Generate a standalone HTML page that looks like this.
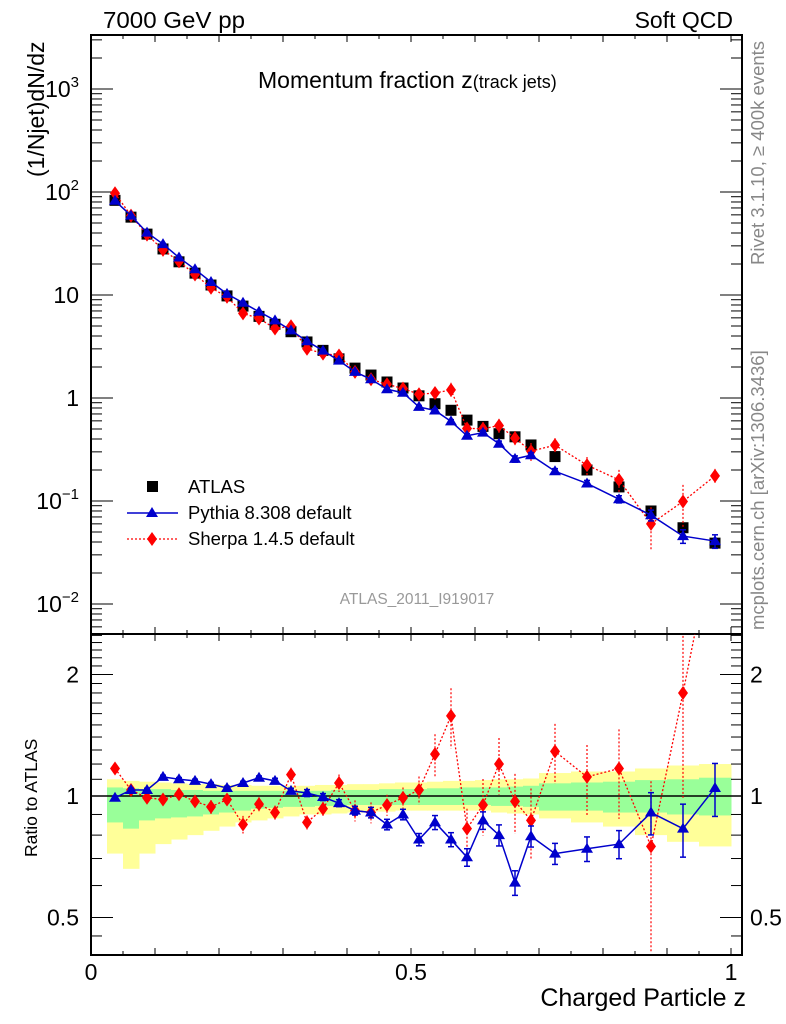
<!DOCTYPE html>
<html><head><meta charset="utf-8"><style>
html,body{margin:0;padding:0;background:#fff}
svg{display:block;font-family:"Liberation Sans",Arial,sans-serif}
</style></head><body>
<svg id="chart" width="786" height="1024" viewBox="0 0 786 1024" xmlns="http://www.w3.org/2000/svg">
<defs>
<clipPath id="clipMain"><rect x="91" y="35" width="651" height="599"/></clipPath>
<clipPath id="clipRatio"><rect x="91" y="634" width="651" height="321"/></clipPath>
</defs>
<g id="bands" clip-path="url(#clipRatio)"></g>
<g id="frame"></g>
<g id="marks"></g>
<text x="103" y="28" font-size="23" textLength="142" lengthAdjust="spacingAndGlyphs">7000 GeV pp</text>
<text x="733" y="28" font-size="23" text-anchor="end">Soft QCD</text>
<text x="258" y="88" font-size="23">Momentum fraction <tspan>z</tspan><tspan font-size="18">(track jets)</tspan></text>
<text x="417" y="604" font-size="15.5" fill="#999" text-anchor="middle">ATLAS_2011_I919017</text>
<text transform="translate(44,177) rotate(-90)" font-size="23">(1/Njet)dN/dz</text>
<text transform="translate(37,857) rotate(-90)" font-size="17.5">Ratio to ATLAS</text>
<text x="746" y="1006" font-size="25" text-anchor="end">Charged Particle z</text>
<text transform="translate(764,265) rotate(-90)" font-size="18.5" fill="#888">Rivet 3.1.10, ≥ 400k events</text>
<text transform="translate(764,630) rotate(-90)" font-size="18.5" fill="#888">mcplots.cern.ch [arXiv:1306.3436]</text>
<g id="legend">
<rect x="147" y="481" width="11" height="11" fill="#000"/>
<text x="188" y="493" font-size="18.5">ATLAS</text>
<line x1="127" y1="513" x2="178" y2="513" stroke="#0000cc" stroke-width="1.5"/>
<polygon points="152,507 158,517 146,517" fill="#0000cc"/>
<text x="188" y="519" font-size="18.5">Pythia 8.308 default</text>
<line x1="127" y1="539" x2="178" y2="539" stroke="#f00" stroke-width="1.2" stroke-dasharray="2,2"/>
<polygon points="152,532 157,539 152,546 147,539" fill="#f00"/>
<text x="188" y="545" font-size="18.5">Sherpa 1.4.5 default</text>
</g>
</svg>
<script>
const zCenters=[0.0375,0.0625,0.0875,0.1125,0.1375,0.1625,0.1875,0.2125,0.2375,0.2625,0.2875,0.3125,0.3375,0.3625,0.3875,0.4125,0.4375,0.4625,0.4875,0.5125,0.5375,0.5625,0.5875,0.6125,0.6375,0.6625,0.6875,0.725,0.775,0.825,0.875,0.925,0.975];
const binHalf=[0.0125,0.0125,0.0125,0.0125,0.0125,0.0125,0.0125,0.0125,0.0125,0.0125,0.0125,0.0125,0.0125,0.0125,0.0125,0.0125,0.0125,0.0125,0.0125,0.0125,0.0125,0.0125,0.0125,0.0125,0.0125,0.0125,0.0125,0.025,0.025,0.025,0.025,0.025,0.025];
const atlasVals=[83,57,39,28,21,16.3,12.5,9.8,7.8,6.2,5.2,4.4,3.5,2.9,2.4,1.95,1.67,1.43,1.25,1.05,0.88,0.76,0.61,0.53,0.45,0.42,0.35,0.27,0.2,0.137,0.08,0.055,0.039];
const pythiaRatio=[0.99,1.035,1.035,1.115,1.10,1.09,1.07,1.047,1.077,1.11,1.09,1.03,1.017,0.994,0.96,0.92,0.91,0.85,0.90,0.78,0.86,0.78,0.705,0.87,0.80,0.61,0.795,0.72,0.74,0.76,0.91,0.83,1.047];
const sherpaRatio=[1.17,1.035,0.99,0.98,1.01,0.97,0.94,0.98,0.85,0.955,0.91,1.13,0.86,0.93,1.077,0.92,0.91,0.95,0.99,1.035,1.27,1.58,0.83,0.95,1.20,0.97,0.87,1.29,1.115,1.17,0.75,1.8,4.5];
const pythiaErr=[0.01,0.01,0.01,0.01,0.01,0.01,0.01,0.01,0.01,0.01,0.015,0.015,0.02,0.02,0.02,0.025,0.03,0.03,0.03,0.035,0.04,0.04,0.05,0.05,0.06,0.07,0.06,0.06,0.07,0.08,0.12,0.15,0.15];
const sherpaErr=[0.03,0.03,0.03,0.03,0.03,0.03,0.04,0.03,0.05,0.04,0.04,0.04,0.04,0.04,0.05,0.06,0.06,0.06,0.06,0.08,0.12,0.17,0.12,0.16,0.16,0.17,0.2,0.17,0.2,0.25,0.45,0.45,0.17];
const yellowHi=[1.10,1.09,1.085,1.08,1.075,1.07,1.07,1.065,1.065,1.06,1.06,1.06,1.06,1.065,1.065,1.07,1.07,1.075,1.08,1.08,1.085,1.09,1.09,1.095,1.10,1.10,1.105,1.14,1.15,1.15,1.17,1.19,1.20];
const greenHi=[1.05,1.045,1.04,1.04,1.035,1.035,1.03,1.03,1.03,1.03,1.03,1.03,1.03,1.03,1.035,1.035,1.035,1.04,1.04,1.04,1.045,1.045,1.05,1.05,1.05,1.055,1.06,1.075,1.08,1.085,1.095,1.10,1.11];
const greenLo=[0.86,0.83,0.87,0.88,0.885,0.89,0.90,0.91,0.92,0.93,0.935,0.94,0.94,0.945,0.945,0.95,0.95,0.95,0.95,0.95,0.95,0.95,0.95,0.95,0.945,0.945,0.94,0.92,0.92,0.91,0.91,0.90,0.895];
const yellowLo=[0.72,0.66,0.72,0.76,0.78,0.80,0.82,0.84,0.86,0.87,0.88,0.89,0.90,0.90,0.905,0.91,0.915,0.915,0.92,0.92,0.92,0.92,0.92,0.92,0.91,0.905,0.90,0.88,0.86,0.84,0.80,0.77,0.75];
const mainTickLabels=["10⁻²","10⁻¹","1","10","10²","10³"];
const ratioTickVals=[0.5,1,2];

const NS="http://www.w3.org/2000/svg";
const X=z=>91+640*z;
const Ym=v=>398-103*Math.log10(v);
const Yr=r=>796-121.5*Math.log2(r);
function mk(tag,attrs,parent){const e=document.createElementNS(NS,tag);for(const k in attrs)e.setAttribute(k,attrs[k]);parent.appendChild(e);return e;}
const bands=document.getElementById('bands'),frame=document.getElementById('frame'),marks=document.getElementById('marks');

zCenters.forEach((z,i)=>{
  const x0=X(z-binHalf[i]),x1=X(z+binHalf[i]);
  const y=mk('rect',{x:x0,y:Yr(yellowHi[i]),width:x1-x0+0.5,height:Yr(yellowLo[i])-Yr(yellowHi[i]),fill:'#ffff99'},bands);
  
  
  const g=mk('rect',{x:x0,y:Yr(greenHi[i]),width:x1-x0+0.5,height:Yr(greenLo[i])-Yr(greenHi[i]),fill:'#99ff99'},bands);
  
  
});
mk('line',{x1:91,y1:Yr(1),x2:742,y2:Yr(1),stroke:'#000','stroke-width':1.5},bands);

const fm=mk('rect',{x:91,y:35,width:651,height:599,fill:'none',stroke:'#000','stroke-width':2},frame);


const fr=mk('rect',{x:91,y:634,width:651,height:321,fill:'none',stroke:'#000','stroke-width':2},frame);


for(let k=0;k<=20;k++){const z=k*0.05,x=X(z),len=(k%2==0)?7:4;
  [[35,1],[634,-1],[634,1],[955,-1]].forEach(([y,d])=>mk('line',{x1:x,y1:y,x2:x,y2:y+d*len,stroke:'#000','stroke-width':1},frame));}
[["0",0],["0.5",0.5],["1",1]].forEach(([t,z])=>{const e=mk('text',{x:X(z),y:980,'font-size':23,'text-anchor':'middle'},frame);e.textContent=t;
  
  });
for(let d=-3;d<=3;d++){for(let m=1;m<10;m++){const v=m*Math.pow(10,d),y=Ym(v);if(y<35||y>634)continue;const len=m==1?22:11;
  mk('line',{x1:91,y1:y,x2:91+len,y2:y,stroke:'#000','stroke-width':1},frame);
  mk('line',{x1:742,y1:y,x2:742-len,y2:y,stroke:'#000','stroke-width':1},frame);}}
mainTickLabels.forEach((t,i)=>{const v=Math.pow(10,i-2),y=Ym(v);
  const e=mk('text',{x:79,y:y+8,'font-size':23,'text-anchor':'end'},frame);
  if(t.startsWith('10')&&t.length>2){e.textContent='10';const s=mk('tspan',{dy:-10,'font-size':15},e);s.textContent=t.slice(2).replace('⁻','−').replace('²','2').replace('³','3').replace('¹','1');}
  else e.textContent=t;
  
  });
const rt=[0.45,0.5,0.6,0.7,0.8,0.9,1,1.1,1.2,1.3,1.4,1.5,1.6,1.7,1.8,1.9,2,2.1,2.2,2.3,2.4,2.5];
rt.forEach(r=>{const y=Yr(r);if(y<634||y>955)return;const len=ratioTickVals.includes(r)?22:11;
  mk('line',{x1:91,y1:y,x2:91+len,y2:y,stroke:'#000','stroke-width':1},frame);
  mk('line',{x1:742,y1:y,x2:742-len,y2:y,stroke:'#000','stroke-width':1},frame);});
ratioTickVals.forEach(r=>{const y=Yr(r);
  const a=mk('text',{x:79,y:y+8,'font-size':23,'text-anchor':'end'},frame);a.textContent=String(r);
  
  
  const b=mk('text',{x:750,y:y+8,'font-size':23},frame);b.textContent=String(r);
  
  });

const gm=mk('g',{'clip-path':'url(#clipMain)'},marks), gr=mk('g',{'clip-path':'url(#clipRatio)'},marks);
const pythiaVals=atlasVals.map((a,i)=>a*pythiaRatio[i]);
const sherpaVals=atlasVals.map((a,i)=>a*sherpaRatio[i]);
function series(g,vals,errs,Yf,color,dash,shape,name){
  const pts=zCenters.map((z,i)=>X(z)+','+Yf(vals[i])).join(' ');
  const pl=mk('polyline',{points:pts,fill:'none',stroke:color,'stroke-width':dash?1.3:1.5,'stroke-dasharray':dash||'none'},g);
  
  
  zCenters.forEach((z,i)=>{const x=X(z),v=vals[i],e=errs[i];
    const y1=Yf(v*(1+e)),y2=Yf(Math.max(v*(1-e),v*0.05));
    mk('line',{x1:x,y1:y1,x2:x,y2:y2,stroke:color,'stroke-width':dash?1.2:1.5,'stroke-dasharray':dash||'none'},g);
    if(!dash){mk('line',{x1:x-3,y1:y1,x2:x+3,y2:y1,stroke:color,'stroke-width':1.5},g);mk('line',{x1:x-3,y1:y2,x2:x+3,y2:y2,stroke:color,'stroke-width':1.5},g);}
    const y=Yf(v);let m;
    if(shape==='tri')m=mk('polygon',{points:`${x},${y-6} ${x+6},${y+4} ${x-6},${y+4}`,fill:color},g);
    else m=mk('polygon',{points:`${x},${y-7} ${x+5},${y} ${x},${y+7} ${x-5},${y}`,fill:color},g);
    
    });
}
zCenters.forEach((z,i)=>{const r=mk('rect',{x:X(z)-5.5,y:Ym(atlasVals[i])-5.5,width:11,height:11,fill:'#000'},gm);
  
  });
series(gm,sherpaVals,sherpaErr,Ym,'#ff0000','2,2','dia','sherpa');
series(gm,pythiaVals,pythiaErr,Ym,'#0000cc',null,'tri','pythia');
series(gr,sherpaRatio,sherpaErr,Yr,'#ff0000','2,2','dia','sherpa-ratio');
series(gr,pythiaRatio,pythiaErr,Yr,'#0000cc',null,'tri','pythia-ratio');
</script>
</body></html>
